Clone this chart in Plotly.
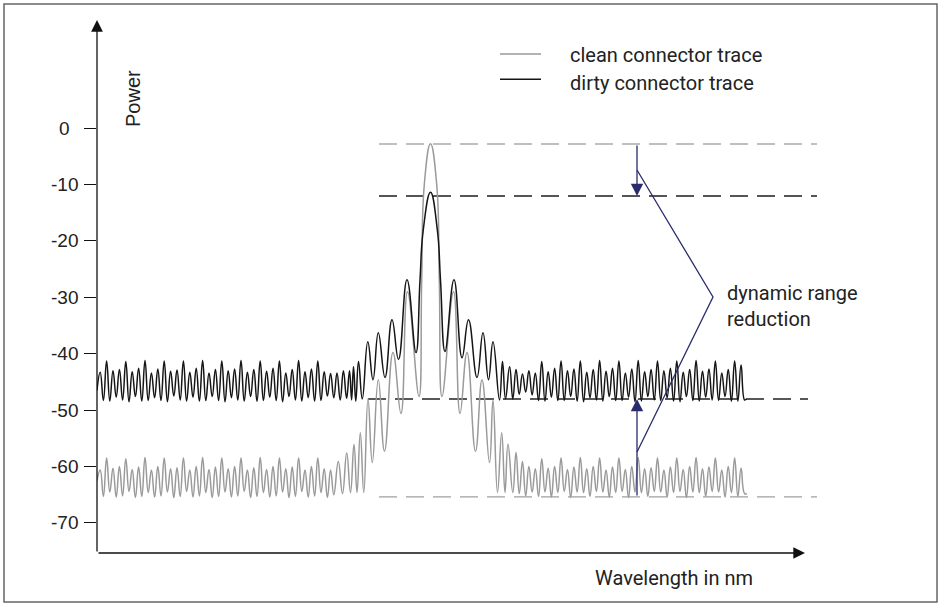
import numpy as np
import plotly.graph_objects as go

# ---------------- data ----------------
y_tick_vals = [0, -10, -20, -30, -40, -50, -60, -70]
y_tick_text = ["0", "-10", "-20", "-30", "-40", "-50", "-60", "-70"]

# flank sampling grids (wavelength index of successive extrema)
LEFT_X0, LEFT_STEP = 97.0, 3.2
RIGHT_X0, RIGHT_STEP = 509.6, 3.215

# dirty connector trace: left flank extrema (trough, peak, trough, ...)
dirty_left = [
    -46.5, -43.3,
    -48.3, -41.3, -48.4, -43.0, -47.7, -42.8,
    -48.2, -41.4, -48.5, -43.2, -47.6, -42.6,
    -48.4, -41.2, -48.3, -43.4, -47.8, -42.7,
    -48.3, -41.3, -48.5, -43.1, -47.5, -42.9,
    -48.2, -41.3, -48.4, -43.3, -47.7, -42.6,
    -48.4, -41.2, -48.3, -43.4, -47.6, -42.8,
    -48.3, -41.3, -48.5, -43.0, -47.8, -42.7,
    -48.2, -41.2, -48.4, -43.3, -47.6, -42.8,
    -48.4, -41.3, -48.3, -43.1, -47.7, -42.6,
    -48.3, -41.3, -48.5, -43.4, -47.6, -42.8,
    -48.2, -41.2, -48.4, -43.2, -47.8, -42.7,
    -48.4, -41.3, -48.3, -43.2, -47.5, -43.5,
    -47.8, -43.4, -48.2, -43.0, -47.9,
]
dirty_core_x = [349.5, 351.6, 353.5, 355.8, 358.5, 362.3, 367.8, 373.0, 378.3, 385.0,
                392.0, 398.5, 407.0, 416.0, 420.0, 423.3, 430.5, 437.3, 440.5, 445.0,
                454.0, 462.0, 468.5, 477.0, 483.0, 488.5, 493.0, 499.5, 502.5, 505.5]
dirty_core_y = [-43.0, -48.2, -42.3, -48.4, -41.4, -48.0, -37.9, -44.6, -36.3, -44.2,
                -34.0, -41.0, -26.9, -39.8, -27.0, -18.0, -11.4, -18.0, -27.0, -39.6,
                -26.9, -40.7, -34.0, -44.2, -36.3, -44.6, -37.9, -48.2, -41.4, -48.0]
dirty_right = [
    -42.3, -48.0, -42.8, -47.2, -43.6, -46.8, -43.0, -47.3, -43.4, -48.3, -41.4,
    -48.4, -43.2, -47.7, -42.6, -48.3, -41.3,
    -48.3, -43.0, -47.6, -42.7, -48.4, -41.3,
    -48.5, -43.3, -47.8, -42.8, -48.2, -41.2,
    -48.4, -43.1, -47.6, -42.6, -48.3, -41.3,
    -48.3, -43.4, -47.7, -42.7, -48.5, -41.2,
    -48.4, -43.2, -47.6, -42.8, -48.2, -41.3,
    -48.3, -43.0, -47.8, -42.6, -48.4, -41.3,
    -48.5, -43.3, -47.6, -42.8, -48.3, -41.2,
    -48.4, -43.1, -47.7, -42.7, -48.2, -41.3,
    -48.3, -43.4, -47.6, -42.8, -48.4, -41.3,
    -48.4, -42.0,
]
dirty_tail_x = [744.6, 746.5]
dirty_tail_y = [-48.2, -48.0]

# clean connector trace
gray_left = [
    -62.5, -60.6,
    -65.3, -58.5, -64.5, -60.3, -65.4, -60.0,
    -65.2, -58.6, -64.4, -60.5, -65.5, -60.1,
    -65.3, -58.4, -64.6, -60.6, -65.4, -60.0,
    -65.2, -58.5, -64.5, -60.4, -65.5, -60.2,
    -65.3, -58.5, -64.4, -60.6, -65.4, -60.0,
    -65.2, -58.4, -64.6, -60.5, -65.5, -60.1,
    -65.3, -58.5, -64.5, -60.4, -65.4, -60.0,
    -65.2, -58.5, -64.4, -60.6, -65.5, -60.2,
    -65.3, -58.4, -64.6, -60.5, -65.4, -60.0,
    -65.2, -58.5, -64.5, -60.4, -65.5, -60.1,
    -65.3, -58.5, -64.4, -60.6, -65.4, -60.0,
    -65.2, -58.5, -64.6, -60.4, -65.5, -60.6,
    -65.0,
]
gray_core_x = [338.3, 342.5, 346.7, 350.5, 354.0, 357.0, 360.3, 363.8, 368.0, 372.3,
               378.3, 384.5, 393.0, 401.0, 407.5, 419.0, 421.7, 424.3, 430.5, 436.7,
               439.3, 442.0, 453.5, 460.0, 467.0, 475.5, 482.0, 489.5, 493.0, 497.5,
               501.7, 505.0, 508.0]
gray_core_y = [-59.1, -64.8, -57.6, -64.6, -56.1, -64.6, -54.0, -64.6, -48.0, -59.3,
               -44.6, -57.3, -39.8, -50.6, -29.0, -47.6, -27.0, -10.0, -2.8, -10.0,
               -27.0, -47.6, -29.0, -50.6, -39.8, -57.3, -44.6, -59.3, -48.2, -64.6,
               -54.0, -64.6, -56.0]
gray_right = [
    -64.6, -57.5, -64.8, -59.1, -65.2, -60.0, -64.5, -60.4, -65.3, -58.6,
    -64.5, -60.3, -65.4, -60.0, -64.6, -58.5,
    -64.4, -60.5, -65.5, -60.1, -64.5, -58.4,
    -64.6, -60.4, -65.3, -60.0, -64.4, -58.5,
    -64.5, -60.6, -65.4, -60.1, -64.6, -58.5,
    -64.4, -60.5, -65.5, -60.0, -64.5, -58.4,
    -64.6, -60.4, -65.3, -60.2, -64.4, -58.5,
    -64.5, -60.6, -65.4, -60.1, -64.6, -58.5,
    -64.4, -60.5, -65.5, -60.0, -64.5, -58.4,
    -64.6, -60.4, -65.3, -60.1, -64.4, -58.5,
    -64.5, -60.6, -65.4, -60.0, -64.6, -58.5,
    -65.3, -60.3,
]
gray_tail_x = [744.6, 747.0]
gray_tail_y = [-64.8, -64.8]

# reference (dashed) levels and their extents
ref_levels = [-2.84, -12.05, -48.03, -65.39]
ref_x0 = [379, 379, 368, 379]
ref_x1 = [817, 817, 808, 817]

# "dynamic range reduction" leader line
conn_x = [637, 713, 637]
conn_y = [-7.44, -29.95, -57.42]
arrow_x = 637

legend_x = [500, 541]
legend_y = [13.11, 8.63]
legend_text_y = [13.0, 7.98]
legend_labels = ["clean connector trace", "dirty connector trace"]

X_RANGE = [97, 902]
Y_RANGE = [-75.32, 19.14]

# ---------------- build ----------------
def flank(x0, step, values, i0=0):
    return x0 + step * np.arange(i0, i0 + len(values))

dirty_x = np.concatenate([flank(LEFT_X0, LEFT_STEP, dirty_left), dirty_core_x,
                          flank(RIGHT_X0, RIGHT_STEP, dirty_right), dirty_tail_x])
dirty_y = np.concatenate([dirty_left, dirty_core_y, dirty_right, dirty_tail_y])
gray_x = np.concatenate([flank(LEFT_X0, LEFT_STEP, gray_left), gray_core_x,
                         flank(RIGHT_X0, RIGHT_STEP, gray_right, i0=1), gray_tail_x])
gray_y = np.concatenate([gray_left, gray_core_y, gray_right, gray_tail_y])

GRAY = "#9a9a9a"
BLACK = "#151515"
NAVY = "#292c6c"
TXT = "#222222"
ROBOTO = "Roboto"
ARIAL = "Liberation Sans"

fig = go.Figure()

ref_colors = ["#aaaaaa", "#555555", "#222222", "#a0a0a0"]
ref_widths = [1.3, 2.0, 1.5, 1.3]
for lv, a, b, c, w in zip(ref_levels, ref_x0, ref_x1, ref_colors, ref_widths):
    fig.add_trace(go.Scatter(x=[a, b], y=[lv, lv], mode="lines",
                             line=dict(color=c, width=w, dash="18px,9px"),
                             showlegend=False, hoverinfo="skip"))

fig.add_trace(go.Scatter(x=gray_x, y=gray_y, mode="lines", name=legend_labels[0],
                         line=dict(color=GRAY, width=1.5, shape="spline", smoothing=1.3),
                         showlegend=False))
fig.add_trace(go.Scatter(x=dirty_x, y=dirty_y, mode="lines", name=legend_labels[1],
                         line=dict(color=BLACK, width=1.5, shape="spline", smoothing=1.3),
                         showlegend=False))

fig.add_trace(go.Scatter(x=conn_x, y=conn_y, mode="lines",
                         line=dict(color=NAVY, width=1.3), showlegend=False, hoverinfo="skip"))

# manual legend
for ly, col in zip(legend_y, [GRAY, BLACK]):
    fig.add_trace(go.Scatter(x=legend_x, y=[ly, ly], mode="lines",
                             line=dict(color=col, width=1.5), showlegend=False, hoverinfo="skip"))

ann = []
for ty, lab in zip(legend_text_y, legend_labels):
    ann.append(dict(x=568, y=ty, xref="x", yref="y", text=lab, showarrow=False,
                    xanchor="left", yanchor="middle", font=dict(family=ROBOTO, size=20, color=TXT)))

# tick labels (centered)
for v, t in zip(y_tick_vals, y_tick_text):
    ann.append(dict(x=(64 - 97) / 805, y=v, xref="paper", yref="y", text=t, showarrow=False,
                    xanchor="center", yanchor="middle", font=dict(family=ARIAL, size=19, color=TXT)))

# axis arrows
ann.append(dict(x=805, y=0, xref="x", yref="paper", ax=97, axref="x", ay=0, ayref="pixel",
                text="", showarrow=True, arrowhead=2, arrowsize=1.8, arrowwidth=1.3,
                arrowcolor="#111111", standoff=0))
ann.append(dict(x=97, y=1, xref="x", yref="paper", ax=97, axref="x", ay=533, ayref="pixel",
                text="", showarrow=True, arrowhead=2, arrowsize=1.8, arrowwidth=1.3,
                arrowcolor="#111111", standoff=0))

# dynamic range arrows
ann.append(dict(x=arrow_x, y=ref_levels[1], xref="x", yref="y", ax=arrow_x, ay=ref_levels[0],
                axref="x", ayref="y", text="", showarrow=True, arrowhead=2, arrowsize=1.9,
                arrowwidth=1.3, arrowcolor=NAVY, standoff=0))
ann.append(dict(x=arrow_x, y=ref_levels[2], xref="x", yref="y", ax=arrow_x, ay=ref_levels[3],
                axref="x", ayref="y", text="", showarrow=True, arrowhead=2, arrowsize=1.9,
                arrowwidth=1.3, arrowcolor=NAVY, standoff=0))

ann.append(dict(x=725, y=-31.55, xref="x", yref="y", text="dynamic range<br>reduction",
                showarrow=False, xanchor="left", yanchor="middle", align="left",
                font=dict(family=ROBOTO, size=20, color=TXT)))
ann.append(dict(x=593, y=(553 - 578) / 533, xref="x", yref="paper", text="Wavelength in nm",
                showarrow=False, xanchor="left", yanchor="middle",
                font=dict(family=ROBOTO, size=20, color=TXT)))
ann.append(dict(x=133, y=5.14, xref="x", yref="y", text="Power", textangle=-90,
                showarrow=False, xanchor="center", yanchor="middle",
                font=dict(family=ARIAL, size=20, color=TXT)))

fig.update_layout(
    width=942, height=606,
    margin=dict(l=97, r=40, t=20, b=53),
    paper_bgcolor="white", plot_bgcolor="white",
    xaxis=dict(range=X_RANGE, showgrid=False, zeroline=False, showticklabels=False,
               ticks="", showline=False, fixedrange=True),
    yaxis=dict(range=Y_RANGE, showgrid=False, zeroline=False, showticklabels=False,
               tickmode="array", tickvals=y_tick_vals, ticks="outside", ticklen=12,
               tickwidth=1.3, tickcolor="#111111", showline=False, fixedrange=True),
    annotations=ann,
    shapes=[dict(type="rect", xref="paper", yref="paper",
                 x0=(4 - 97) / 805, x1=(937 - 97) / 805,
                 y0=(553 - 602) / 533, y1=(553 - 4) / 533,
                 line=dict(color="#666666", width=1.5), fillcolor="rgba(0,0,0,0)")],
    showlegend=False,
)

fig.write_html("out.html")
